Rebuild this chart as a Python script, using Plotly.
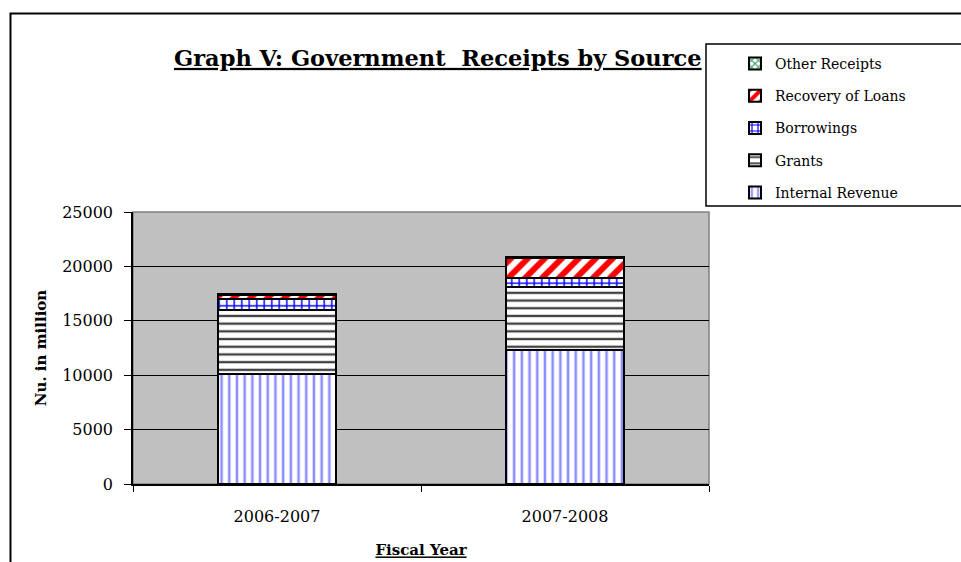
import plotly.graph_objects as go

years = ["2006-2007", "2007-2008"]
internal_revenue = [10100, 12300]
grants = [5900, 5850]
borrowings = [1050, 750]
recovery_of_loans = [300, 1900]
other_receipts = [100, 80]

W, H = 961, 562
L, R, T, B = 133, 709, 212, 484
PW, PH = R - L, B - T

def px_x(x):
    return (x - L) / PW

def px_y(y):
    return (B - y) / PH

FONT = "DejaVu Serif"

series = [
    ("Internal Revenue", internal_revenue, dict(shape="|", fgcolor="#8c8cff", bgcolor="white", size=7.7, solidity=0.33, fgopacity=1)),
    ("Grants", grants, dict(shape="-", fgcolor="#404040", bgcolor="white", size=7.7, solidity=0.3, fgopacity=1)),
    ("Borrowings", borrowings, dict(shape="+", fgcolor="#0000ff", bgcolor="white", size=7.5, solidity=0.35, fgopacity=1)),
    ("Recovery of Loans", recovery_of_loans, dict(shape="/", fgcolor="#ff0000", bgcolor="white", size=12, solidity=0.5, fgopacity=1)),
    ("Other Receipts", other_receipts, dict(shape="x", fgcolor="#339966", bgcolor="white", size=6, solidity=0.4, fgopacity=1)),
]

fig = go.Figure()
n = len(series)
for i, (name, vals, pat) in enumerate(series):
    fig.add_trace(go.Bar(
        name=name, x=years, y=vals, legendgroup=name, legendrank=n - i,
        marker=dict(color="white", pattern=pat, line=dict(color="black", width=2)),
    ))

fig.update_layout(
    width=W, height=H,
    barmode="stack", bargap=0.59,
    paper_bgcolor="white", plot_bgcolor="#c0c0c0",
    margin=dict(l=L, r=W - R, t=T, b=H - B, pad=0, autoexpand=False),
    font=dict(family=FONT, color="black", size=15),
    title=dict(text="<u><b>Graph V: Government  Receipts by Source</b></u>",
               font=dict(family=FONT, size=22.5, color="black"),
               x=174 / W, xanchor="left", xref="container",
               y=1 - 58 / H, yanchor="middle", yref="container"),
    legend=dict(x=px_x(735), y=px_y(48), xanchor="left", yanchor="top",
                bgcolor="rgba(0,0,0,0)", borderwidth=0,
                traceorder="grouped", tracegroupgap=11,
                font=dict(family=FONT, size=14, color="black")),
    showlegend=True,
)

fig.update_yaxes(range=[0, 25000], dtick=5000, tickformat="d", automargin=False,
                 showgrid=True, gridcolor="black", gridwidth=1,
                 showline=True, linecolor="black", linewidth=1.5,
                 ticks="outside", ticklen=7, tickcolor="black", tickwidth=1,
                 tickfont=dict(family=FONT, size=16), ticklabelstandoff=8,
                 zeroline=False,
                 title=dict(text="<b>Nu. in million</b>", font=dict(family=FONT, size=15), standoff=12))
fig.update_xaxes(showline=True, linecolor="black", linewidth=1.5, automargin=False,
                 ticks="outside", ticklen=6, tickcolor="black", tickwidth=1,
                 tickson="boundaries",
                 tickfont=dict(family=FONT, size=16), ticklabelstandoff=17,
                 title=dict(text="<u><b>Fiscal Year</b></u>", font=dict(family=FONT, size=15), standoff=20))

# plot-area border (gray), outer chart frame, legend frame
fig.add_shape(type="rect", xref="paper", yref="paper", x0=0, x1=1, y0=0, y1=1,
              line=dict(color="#808080", width=1.5), layer="below")
fig.add_shape(type="rect", xref="paper", yref="paper",
              x0=px_x(10.5), x1=px_x(975), y0=px_y(580), y1=px_y(13.5),
              line=dict(color="black", width=2), layer="below")
fig.add_shape(type="rect", xref="paper", yref="paper",
              x0=px_x(706), x1=px_x(975), y0=px_y(206), y1=px_y(44),
              fillcolor="white", line=dict(color="black", width=1.5), layer="above")

fig.write_html("out.html", config={"displayModeBar": False},
               post_script="document.body.style.margin='0';")
